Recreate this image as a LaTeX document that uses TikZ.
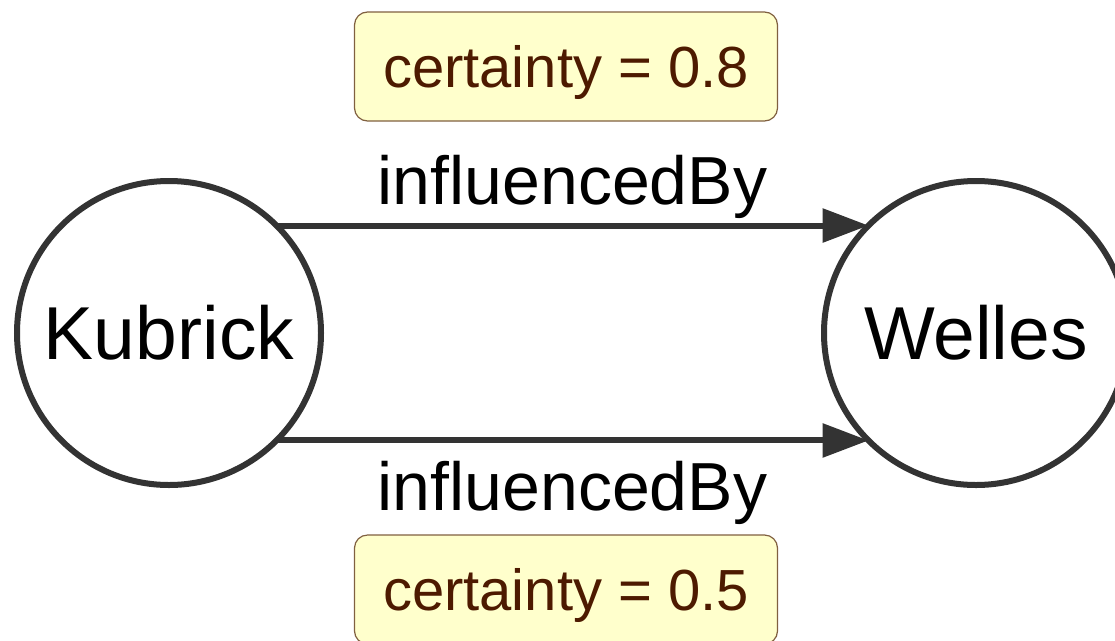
\documentclass[tikz,border=0pt]{standalone}
\usepackage{fontspec}
\setmainfont{Liberation Sans}
\usetikzlibrary{arrows.meta}
\definecolor{edgegray}{RGB}{51,51,51}
\definecolor{notefill}{RGB}{255,255,204}
\definecolor{noteline}{RGB}{128,96,64}
\definecolor{notetext}{RGB}{77,26,0}
\tikzset{
  entity/.style={circle, draw=edgegray, line width=6pt, fill=white,
    minimum size=304pt, inner sep=0pt, outer sep=0pt,
    font=\fontsize{75}{90}\selectfont},
  relation/.style={draw=edgegray, line width=6pt,
    -{Triangle[length=46pt,width=33pt]}},
  rellabel/.style={anchor=base, inner sep=0pt,
    font=\fontsize{68}{80}\selectfont},
  note/.style={draw=noteline, line width=1.2pt, fill=notefill,
    rounded corners=13pt, minimum width=423pt, minimum height=109pt,
    text=notetext, text depth=0pt, inner sep=0pt,
    font=\fontsize{58}{70}\selectfont}
}
\begin{document}
\begin{tikzpicture}[x=1pt, y=-1pt]
  \useasboundingbox (0,0) rectangle (1115,640);

  % the two resources
  \node[entity] (kub) at (169,333) {Kubrick};
  \node[entity] (wel) at (976,333) {Welles};

  % two statements with the same predicate
  \draw[relation] (kub.north east) -- (wel.north west)
    node[rellabel, midway, yshift=21pt] (lbltop) {influencedBy};
  \draw[relation] (kub.south east) -- (wel.south west)
    node[rellabel, midway, yshift=-70pt] (lblbot) {influencedBy};

  % annotations on each statement
  \node[note] (certtop) at (566,66.5) {certainty = 0.8};
  \node[note] (certbot) at (566,589.5) {certainty = 0.5};
\end{tikzpicture}
\end{document}
